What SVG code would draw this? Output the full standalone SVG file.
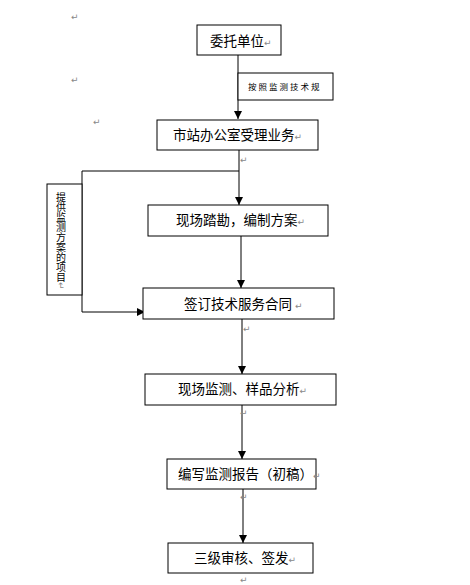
<svg xmlns="http://www.w3.org/2000/svg" width="470" height="585" viewBox="0 0 470 585">
<style>
.box{fill:#fff;stroke:#000;stroke-width:1}
.t{font-family:"Noto Sans CJK SC","Liberation Sans",sans-serif;font-size:13.5px;fill:#000}
.s{font-family:"Noto Sans CJK SC","Liberation Sans",sans-serif;font-size:8.5px;fill:#000}
.r{font-family:"DejaVu Sans",sans-serif;font-size:9px;fill:#888}
.ln{stroke:#000;stroke-width:1;fill:none}
</style>
<defs>
<marker id="ah" viewBox="0 0 8 8" refX="8" refY="4" markerWidth="8" markerHeight="8" markerUnits="userSpaceOnUse" orient="auto">
<path d="M0,0 L8,4 L0,8 Z" fill="#000"/>
</marker>
</defs>
<rect width="470" height="585" fill="#fff"/>
<g id="connectors">
<line class="ln" x1="238" y1="55" x2="238" y2="119" marker-end="url(#ah)"/>
<line class="ln" x1="239" y1="150" x2="239" y2="205" marker-end="url(#ah)"/>
<polyline class="ln" points="239,171 82,171 82,312 145,312" marker-end="url(#ah)"/>
<line class="ln" x1="241" y1="236" x2="241" y2="288" marker-end="url(#ah)"/>
<line class="ln" x1="242" y1="319" x2="242" y2="374" marker-end="url(#ah)"/>
<line class="ln" x1="242" y1="405" x2="242" y2="459" marker-end="url(#ah)"/>
<line class="ln" x1="243" y1="489" x2="243" y2="543" marker-end="url(#ah)"/>
</g>
<g id="label-rule">
<rect class="box" x="238" y="73" width="95" height="27"/>
<text class="s" x="248" y="90" letter-spacing="2">按照监测技术规</text>
</g>
<g id="n1">
<rect class="box" x="197" y="25" width="84" height="30"/>
<text class="t" x="210" y="46">委托单位<tspan class="r">↵</tspan></text>
</g>
<g id="n2">
<rect class="box" x="157" y="120" width="161" height="30"/>
<text class="t" x="173" y="140">市站办公室受理业务<tspan class="r">↵</tspan></text>
</g>
<g id="n3">
<rect class="box" x="148" y="205" width="180" height="31"/>
<text class="t" x="176" y="225">现场踏勘，编制方案<tspan class="r">↵</tspan></text>
</g>
<g id="side">
<rect class="box" x="47" y="184" width="35" height="111"/>
<text class="s" x="61" y="192" style="writing-mode:vertical-rl;font-size:10px">提供监测方案的项目<tspan class="r">↵</tspan></text>
</g>
<g id="n4">
<rect class="box" x="143" y="288" width="191" height="31"/>
<text class="t" x="184" y="309">签订技术服务合同 <tspan class="r">↵</tspan></text>
</g>
<g id="n5">
<rect class="box" x="145" y="374" width="191" height="31"/>
<text class="t" x="178" y="394">现场监测、样品分析<tspan class="r">↵</tspan></text>
</g>
<g id="n6">
<rect class="box" x="167" y="459" width="149" height="30"/>
<text class="t" x="178" y="479">编写监测报告（初稿）<tspan class="r">↵</tspan></text>
</g>
<g id="n7">
<rect class="box" x="168" y="543" width="145" height="30"/>
<text class="t" x="194" y="563">三级审核、签发<tspan class="r">↵</tspan></text>
</g>
<g id="marks">
<text class="r" x="71" y="20">↵</text>
<text class="r" x="71" y="83">↵</text>
<text class="r" x="93" y="125">↵</text>
<text class="r" x="240" y="163">↵</text>
<text class="r" x="243" y="332">↵</text>
<text class="r" x="240" y="416">↵</text>
<text class="r" x="240" y="500">↵</text>
<text class="r" x="240" y="583">↵</text>
</g>
</svg>
